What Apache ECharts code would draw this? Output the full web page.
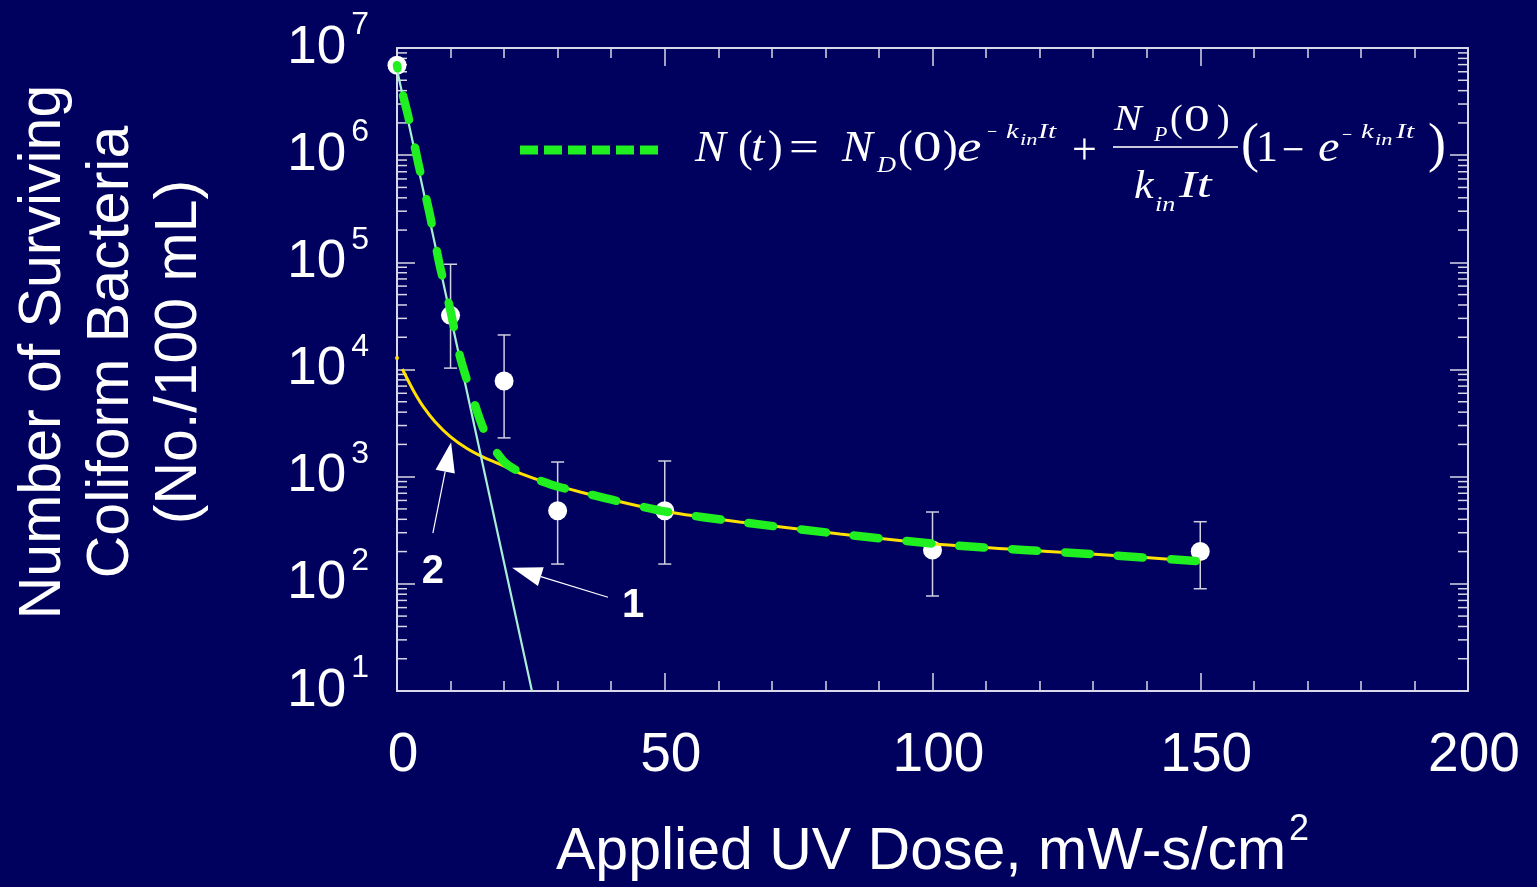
<!DOCTYPE html>
<html><head><meta charset="utf-8">
<script src="https://cdn.jsdelivr.net/npm/echarts@6/dist/echarts.min.js"></script>
<style>html,body{margin:0;padding:0;background:#00005f;}#c{width:1537px;height:887px;}</style>
</head><body><div id="c"></div>
<script>
// ---- data ----
const doses = [0, 10, 20, 30, 50, 100, 150];
const survivors = [6.9e6, 3.2e4, 7.8e3, 480, 480, 207, 200];
const errLow = [null, 1.03e4, 2.3e3, 153, 153, 77, 90];
const errHigh = [null, 9.6e4, 2.1e4, 1.37e3, 1.4e3, 468, 380];

const line1Dose = [0, 25.2];
const line1N = [6.3e6, 10];

const line2Dose = [0.99, 3.0, 4.9, 7.1, 9.9, 13.0, 16.1, 19.9, 23.0, 28.0, 34.2, 40.3, 50.4, 64, 82.7, 103, 131, 150];
const line2N = [10100, 6440, 4500, 3260, 2380, 1840, 1520, 1260, 1075, 880, 720, 606, 470, 378, 292, 230, 188, 162];
const line2StartDose = [0];
const line2StartN = [12800];

const fitDose = [0, 0.87, 2.11, 3.98, 6.16, 7.9, 10.03, 11.76, 14.14, 16.1, 18.0, 20.0, 22.0, 24.8, 30.1, 34.2, 40.3, 50.4, 64, 82.7, 103, 131, 150];
const fitN = [6.9e6, 4.06e6, 2.29e6, 8.4e5, 2.75e5, 9.8e4, 3.47e4, 1.32e4, 5.4e3, 2.83e3, 1.86e3, 1.38e3, 1.17e3, 1.0e3, 805, 720, 606, 470, 378, 292, 230, 188, 162];

const xTicks = [0, 50, 100, 150, 200];
const yExponents = [1, 2, 3, 4, 5, 6, 7];

const arrowTips = [[21.5, 141], [10.1, 2100]];
const arrowTails = [[39.4, 75], [6.7, 298]];
const arrowLabels = ['1', '2'];
const arrowLabelPos = [[44.1, 62], [6.7, 129]];

// ---- styling ----
const BG = '#00005f';
const AX = '#d8d8e8';
const SANS = '"Liberation Sans", Arial, sans-serif';
const SERIF = '"Liberation Serif", "Times New Roman", serif';

const zip = (a, b) => a.map((v, i) => [v, b[i]]);
const yMinor = [];
yExponents.slice(0, -1).forEach(e => { for (let m = 2; m <= 9; m++) yMinor.push([0, m * Math.pow(10, e)]); });

const chart = echarts.init(document.getElementById('c'), null, {renderer: 'canvas'});

const axisCommonX = {
  type: 'value', min: 0, max: 200, interval: 50,
  axisLine: {show: true, onZero: false, lineStyle: {color: AX, width: 2}},
  axisTick: {show: true, inside: true, length: 18, lineStyle: {color: AX, width: 1.5}},
  minorTick: {show: true, splitNumber: 5, length: 10, lineStyle: {color: AX, width: 1.5}},
  splitLine: {show: false}, minorSplitLine: {show: false}
};
const axisCommonY = {
  type: 'log', logBase: 10, min: 10, max: 1e7,
  axisLine: {show: true, onZero: false, lineStyle: {color: AX, width: 2}},
  axisTick: {show: true, inside: true, length: 18, lineStyle: {color: AX, width: 1.5}},
  minorTick: {show: false},
  splitLine: {show: false}
};

function txt(text, x, y, size, italic, sx) {
  return {
    type: 'text', x: x, y: y, scaleX: sx || 1, silent: true, z: 20,
    style: {text: text, fill: '#ffffff', font: (italic ? 'italic ' : '') + size + 'px ' + SERIF,
            align: 'left', verticalAlign: 'middle'}
  };
}

const formula = [
  txt('N', 695, 149, 44, true, 1.05),
  txt('(', 738, 149, 44, false),
  txt('t', 751, 149, 44, true, 1.1),
  txt(')', 768, 149, 44, false),
  txt('=', 789, 149, 44, false, 1.2),
  txt('N', 842, 149, 44, true, 1.05),
  txt('D', 877, 166, 24, true, 1.1),
  txt('(', 898, 149, 44, false),
  txt('0', 913, 149, 44, false, 1.3),
  txt(')', 943, 149, 44, false),
  txt('e', 957, 149, 44, true, 1.25),
  txt('\u2212', 987, 133, 20, false, 0.9),
  txt('k', 1006, 132, 22, true, 1.3),
  txt('in', 1020, 141, 16, true, 1.4),
  txt('It', 1038, 132, 22, true, 1.35),
  txt('+', 1072, 152, 44, false),
  {type: 'line', silent: true, z: 20, shape: {x1: 1113, y1: 147, x2: 1238, y2: 147}, style: {stroke: '#c8c8dc', lineWidth: 2}},
  txt('N', 1114, 121, 36, true, 1.15),
  txt('P', 1154, 136, 20, true, 1.1),
  txt('(', 1170, 121, 38, false),
  txt('0', 1184, 121, 38, false, 1.35),
  txt(')', 1217, 121, 38, false),
  txt('k', 1134, 187, 40, true, 1.1),
  txt('in', 1155, 206, 20, true, 1.3),
  txt('It', 1179, 187, 38, true, 1.4),
  txt('(', 1241, 147, 54, false),
  txt('1', 1256, 149, 44, false),
  txt('\u2212', 1282, 152, 44, false, 0.9),
  txt('e', 1318, 149, 44, true, 1.1),
  txt('\u2212', 1342, 136, 20, false, 0.9),
  txt('k', 1361, 132, 22, true, 1.3),
  txt('in', 1375, 141, 16, true, 1.4),
  txt('It', 1396, 132, 22, true, 1.35),
  txt(')', 1428, 147, 54, false)
];

const option = {
  backgroundColor: BG,
  animation: false,
  grid: {left: 397, right: 69, top: 48, bottom: 196, containLabel: false, outerBoundsMode: 'none'},
  xAxis: [
    Object.assign({}, axisCommonX, {
      position: 'bottom',
      axisLabel: {show: true, color: '#ffffff', fontFamily: SANS, fontSize: 55, margin: 37, padding: [0, 0, 0, 12],
                  formatter: v => xTicks.indexOf(v) >= 0 ? String(v) : ''}
    }),
    Object.assign({}, axisCommonX, {position: 'top', axisLabel: {show: false}})
  ],
  yAxis: [
    Object.assign({}, axisCommonY, {
      position: 'left',
      axisLabel: {
        show: true, margin: 28, padding: [0, 0, 12, 0],
        formatter: v => '{b|10}{s|' + Math.round(Math.log10(v)) + '}',
        rich: {
          b: {fontSize: 53, fontFamily: SANS, color: '#ffffff', padding: [12, 0, 0, 0]},
          s: {fontSize: 32, fontFamily: SANS, color: '#ffffff', verticalAlign: 'top', padding: [0, 0, 0, 5]}
        }
      }
    }),
    Object.assign({}, axisCommonY, {position: 'right', axisLabel: {show: false}})
  ],
  graphic: [
    {type: 'text', x: 112, y: 352, rotation: Math.PI / 2, silent: true,
     style: {text: 'Number of Surviving\nColiform Bacteria\n(No./100 mL)', fill: '#ffffff',
             font: '59px ' + SANS, lineHeight: 68, align: 'center', verticalAlign: 'middle'}},
    {type: 'text', x: 556, y: 853, silent: true,
     style: {text: 'Applied UV Dose, mW-s/cm', fill: '#ffffff', font: '59px ' + SANS, align: 'left', verticalAlign: 'middle'}},
    {type: 'text', x: 1289, y: 830, silent: true,
     style: {text: '2', fill: '#ffffff', font: '36px ' + SANS, align: 'left', verticalAlign: 'middle'}},
    {type: 'line', silent: true, z: 20, shape: {x1: 520, y1: 150, x2: 658, y2: 150},
     style: {stroke: '#20f020', lineWidth: 9, lineDash: [18, 6], lineCap: 'butt'}}
  ].concat(formula),
  series: [
    {
      name: 'minorY', type: 'custom', silent: true, z: 1,
      data: yMinor,
      renderItem: function (params, api) {
        const cs = params.coordSys;
        const y = api.coord([0, api.value(1)])[1];
        return {type: 'group', children: [
          {type: 'line', shape: {x1: cs.x, y1: y, x2: cs.x + 10, y2: y}, style: {stroke: AX, lineWidth: 1.5}},
          {type: 'line', shape: {x1: cs.x + cs.width - 10, y1: y, x2: cs.x + cs.width, y2: y}, style: {stroke: AX, lineWidth: 1.5}}
        ]};
      }
    },
    {
      name: 'errors', type: 'custom', silent: true, z: 2,
      data: doses.map((d, i) => [d, errLow[i], errHigh[i]]).filter(r => r[1] != null),
      encode: {x: 0, y: [1, 2]},
      renderItem: function (params, api) {
        const lo = api.coord([api.value(0), api.value(1)]);
        const hi = api.coord([api.value(0), api.value(2)]);
        const w = 6.5;
        const st = {stroke: '#d0d0e0', lineWidth: 1.5};
        return {type: 'group', children: [
          {type: 'line', shape: {x1: lo[0], y1: lo[1], x2: hi[0], y2: hi[1]}, style: st},
          {type: 'line', shape: {x1: lo[0] - w, y1: lo[1], x2: lo[0] + w, y2: lo[1]}, style: st},
          {type: 'line', shape: {x1: hi[0] - w, y1: hi[1], x2: hi[0] + w, y2: hi[1]}, style: st}
        ]};
      }
    },
    {
      name: 'Observed', type: 'scatter', z: 3, symbol: 'circle', symbolSize: 19,
      itemStyle: {color: '#ffffff', opacity: 1},
      data: zip(doses, survivors)
    },
    {
      name: 'curve2start', type: 'scatter', z: 4, symbol: 'circle', symbolSize: 4,
      itemStyle: {color: '#ffe000', opacity: 1},
      data: zip(line2StartDose, line2StartN)
    },
    {
      name: 'Curve 2', type: 'line', z: 4, showSymbol: false, smooth: 0.25,
      lineStyle: {color: '#ffe000', width: 3},
      data: zip(line2Dose, line2N)
    },
    {
      name: 'Curve 1', type: 'line', z: 4, showSymbol: false,
      lineStyle: {color: '#a8f0d4', width: 2.2},
      data: zip(line1Dose, line1N)
    },
    {
      name: 'Fit', type: 'line', z: 5, showSymbol: false, smooth: 0.25,
      lineStyle: {color: '#20f020', width: 8.5, type: [25, 28], dashOffset: 22, cap: 'round', join: 'round'},
      data: zip(fitDose, fitN)
    },
    {
      name: 'arrows', type: 'custom', silent: true, z: 6,
      data: arrowTips.map((t, i) => [t[0], t[1], arrowTails[i][0], arrowTails[i][1], arrowLabelPos[i][0], arrowLabelPos[i][1], i]),
      encode: {x: 0, y: 1},
      renderItem: function (params, api) {
        const tip = api.coord([api.value(0), api.value(1)]);
        const tail = api.coord([api.value(2), api.value(3)]);
        const lp = api.coord([api.value(4), api.value(5)]);
        const idx = api.value(6);
        let dx = tail[0] - tip[0], dy = tail[1] - tip[1];
        const L = Math.sqrt(dx * dx + dy * dy); dx /= L; dy /= L;
        const hl = 30, hw = 9.8;
        const bx = tip[0] + dx * hl, by = tip[1] + dy * hl;
        return {type: 'group', children: [
          {type: 'line', shape: {x1: bx, y1: by, x2: tail[0], y2: tail[1]}, style: {stroke: '#ffffff', lineWidth: 1.2}},
          {type: 'polygon', shape: {points: [tip, [bx - dy * hw, by + dx * hw], [bx + dy * hw, by - dx * hw]]}, style: {fill: '#ffffff'}},
          {type: 'text', x: lp[0], y: lp[1], style: {text: arrowLabels[idx], fill: '#ffffff', font: 'bold 40px ' + SANS, align: 'center', verticalAlign: 'middle'}}
        ]};
      }
    }
  ]
};
chart.setOption(option);
</script>
</body></html>
